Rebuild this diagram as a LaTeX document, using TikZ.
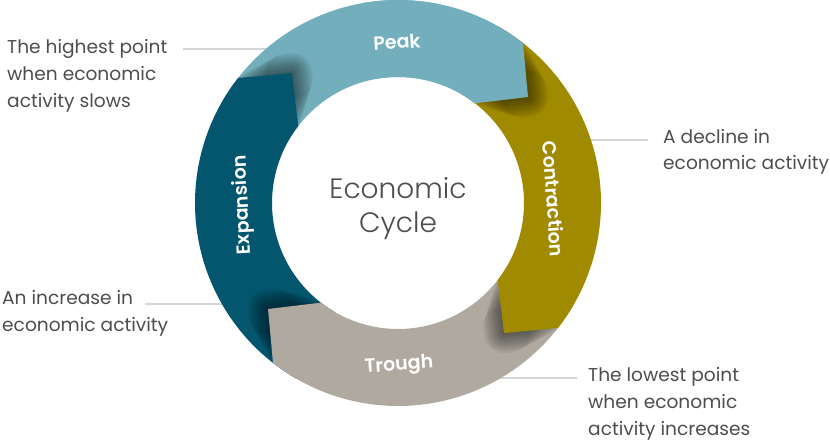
\documentclass[tikz,border=0pt]{standalone}
\usepackage{fontspec}
\usetikzlibrary{calc}
\setmainfont{Poppins}
\newfontfamily\lightfont{Poppins Light}
\newfontfamily\semifont{Poppins SemiBold}
\definecolor{peakc}{HTML}{72AEBB}
\definecolor{contc}{HTML}{A08A00}
\definecolor{troughc}{HTML}{AFA9A0}
\definecolor{expc}{HTML}{04566E}
\definecolor{txtc}{HTML}{4D4D4D}
\definecolor{leaderc}{HTML}{D3D6D6}
\def\segpath#1{(#1:203) arc[start angle=#1, end angle=52, radius=203] -- (130,106) -- (52.3:126) arc[start angle=52.3, end angle=#1, radius=126] -- cycle}
\def\ringpath{(203,0) arc[start angle=0, end angle=360, radius=203] -- (126,0) arc[start angle=360, end angle=0, radius=126] -- cycle}
\def\shadowblob{%
  \coordinate (K) at (130,106);
  \coordinate (O) at (52:203);
  \coordinate (I) at (52.3:126);
  \foreach \i in {1,...,10}{%
    \pgfmathsetmacro\L{56-5*\i}%
    \pgfmathsetmacro\w{4*\i}%
    \draw[black,opacity=0.055,line width=\w pt,line join=round,line cap=round]
      ($(K)!\L pt!(O)$) -- (K) -- ($(K)!\L pt!(I)$);}}
\tikzset{
  leader/.style={draw=leaderc, line width=1.5pt},
  sidetext/.style={text=txtc, align=left, inner sep=0pt, anchor=base west, font=\fontsize{18.6}{27}\selectfont},
  ringlabel/.style={text=white, inner sep=0pt, font=\semifont\fontsize{19}{22}\selectfont}
}
\begin{document}
\begin{tikzpicture}[x=1pt,y=1pt]
\useasboundingbox (0,0) rectangle (830,440);
% leader lines
\coordinate (l1a) at (183,391); \coordinate (l1b) at (300,391);
\coordinate (l2a) at (648,300); \coordinate (l2b) at (560,300);
\coordinate (l3a) at (145,136); \coordinate (l3b) at (250,136);
\coordinate (l4a) at (577,62);  \coordinate (l4b) at (470,62);
\draw[leader] (l1a) -- (l1b);
\draw[leader] (l2a) -- (l2b);
\draw[leader] (l3a) -- (l3b);
\draw[leader] (l4a) -- (l4b);
% ring
\begin{scope}[shift={(398,237)}]
  \fill[peakc] \segpath{150};
  \begin{scope}[rotate=90]\clip \ringpath; \shadowblob \end{scope}
  \begin{scope}[rotate=90]\fill[expc] \segpath{150};\end{scope}
  \begin{scope}[rotate=180]\clip \ringpath; \shadowblob \end{scope}
  \begin{scope}[rotate=180]\fill[troughc] \segpath{150};\end{scope}
  \begin{scope}[rotate=-90]\clip \ringpath; \shadowblob \end{scope}
  \begin{scope}[rotate=-90]\fill[contc] \segpath{150};\end{scope}
  \begin{scope}\clip \ringpath; \shadowblob \end{scope}
  \fill[peakc] \segpath{100};
\end{scope}
% ring labels
\node[ringlabel, rotate=4] (peak) at (397,398) {Peak};
\node[ringlabel, rotate=-86] (contraction) at (554,241) {Contraction};
\node[ringlabel, rotate=4] (trough) at (399,74) {Trough};
\node[ringlabel, rotate=93] (expansion) at (243,235) {Expansion};
% center
\node[text=txtc, align=center, inner sep=0pt, anchor=base, font=\lightfont\fontsize{28}{34}\selectfont] (center) at (398,208) {Economic\\Cycle};
% side texts (anchor at baseline of last line)
\node[sidetext] (t1) at (7,332) {The highest point\\when economic\\activity slows};
\node[sidetext] (t2) at (663,270) {A decline in\\economic activity};
\node[sidetext] (t3) at (2,109) {An increase in\\economic activity};
\node[sidetext] (t4) at (588,5) {The lowest point\\when economic\\activity increases};
\end{tikzpicture}
\end{document}
